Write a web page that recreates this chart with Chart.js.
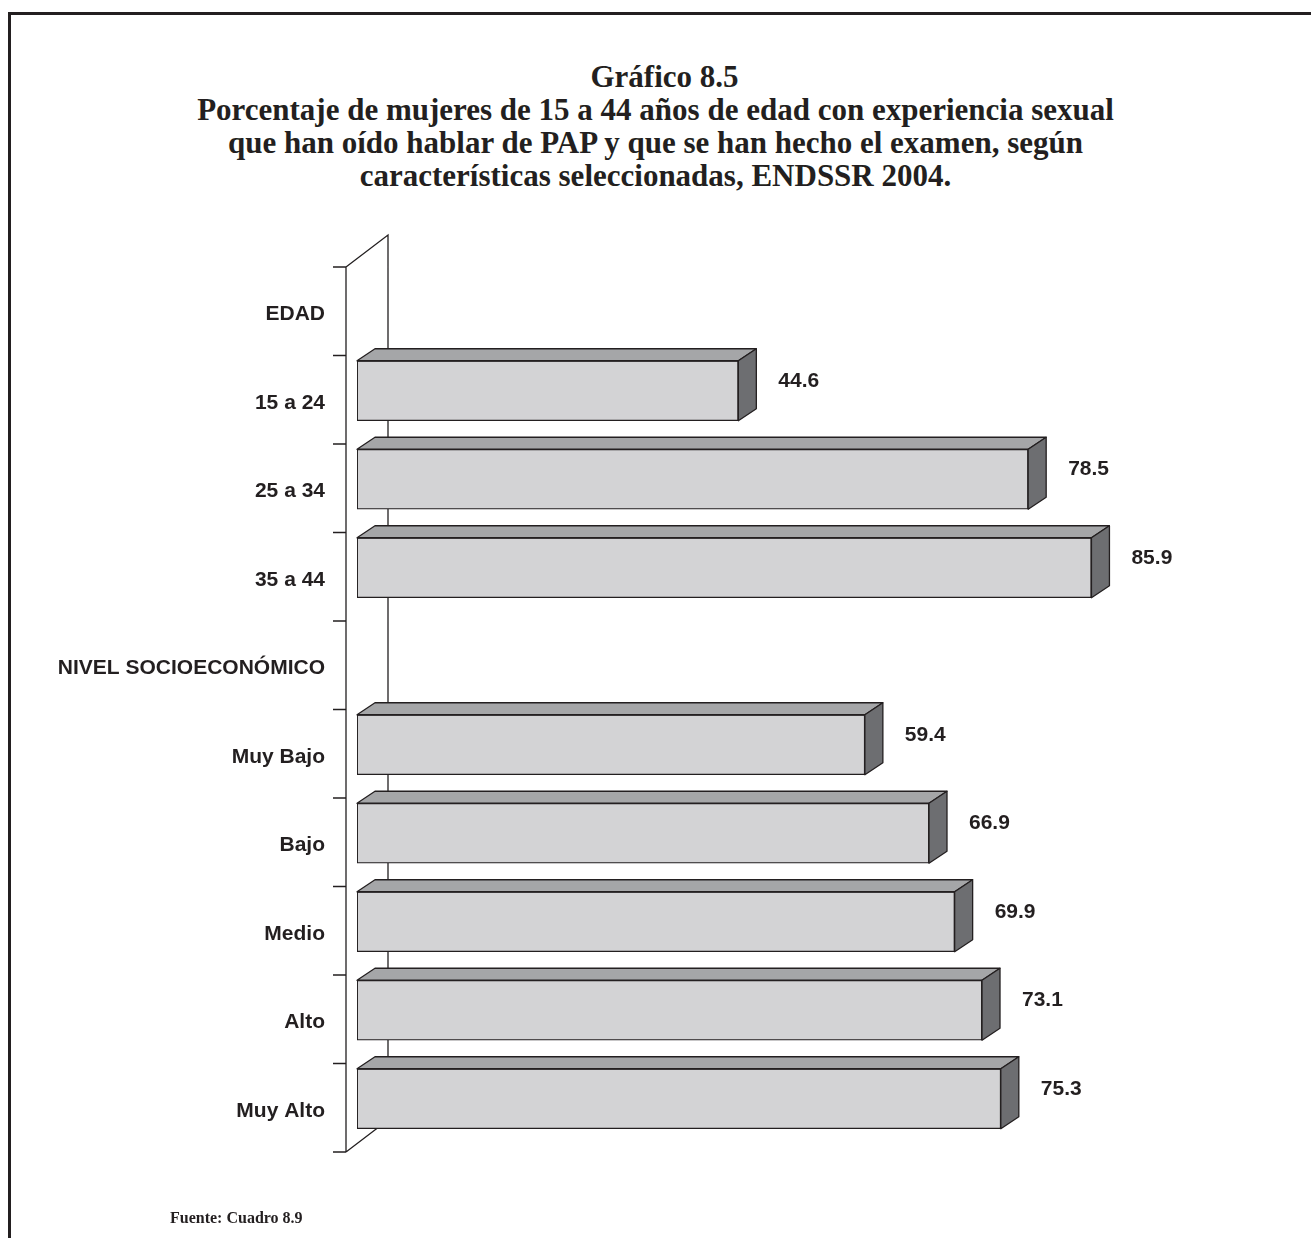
<!DOCTYPE html>
<html>
<head>
<meta charset="utf-8">
<script src="https://cdn.jsdelivr.net/npm/chart.js@4"></script>
<style>
  body { margin: 0; background: #fff; }
  #wrap { position: relative; width: 1311px; height: 1238px; overflow: hidden; }
  #frame { position: absolute; left: 8px; top: 12px; width: 1400px; height: 1400px; border-left: 3px solid #231f20; border-top: 3px solid #231f20; }
  #title { position: absolute; left: 0; width: 1311px; top: 60px; text-align: center; font-family: 'Liberation Serif', serif; font-weight: bold; font-size: 31px; line-height: 33px; color: #231f20; }
  #source { position: absolute; left: 170px; top: 1209px; font-family: 'Liberation Serif', serif; font-weight: bold; font-size: 16px; color: #231f20; }
  canvas { position: absolute; left: 0; top: 0; }
</style>
</head>
<body>
<div id="wrap">
  <div id="frame"></div>
  <div id="title">
    <div style="padding-left:18px">Gráfico 8.5</div>
    <div>Porcentaje de mujeres de 15 a 44 años de edad con experiencia sexual</div>
    <div>que han oído hablar de PAP y que se han hecho el examen, según</div>
    <div>características seleccionadas, ENDSSR 2004.</div>
  </div>
  <canvas id="barChart" width="1311" height="1238"></canvas>
  <div id="source">Fuente: Cuadro 8.9</div>
</div>
<script>
const categories = ['EDAD', '15 a 24', '25 a 34', '35 a 44', 'NIVEL SOCIOECONÓMICO',
  'Muy Bajo', 'Bajo', 'Medio', 'Alto', 'Muy Alto'];
const percentages = [null, 44.6, 78.5, 85.9, null, 59.4, 66.9, 69.9, 73.1, 75.3];

const depthX = 18;
const depthY = 12;

// floor / wall lines of the 3D frame, drawn behind the bars
const wallPlugin = {
  id: 'wall',
  beforeDatasetsDraw(chart) {
    const ctx = chart.ctx;
    const area = chart.chartArea;
    const band = (area.bottom - area.top) / categories.length;
    const fx = area.left - 11;
    const top = area.top + 9;
    const bottom = area.bottom + 9;
    ctx.save();
    ctx.strokeStyle = '#231f20';
    ctx.lineWidth = 1.3;
    ctx.beginPath();
    ctx.moveTo(fx, top);
    ctx.lineTo(fx, bottom);
    ctx.moveTo(fx, top);
    ctx.lineTo(fx + 42, top - 32);
    ctx.lineTo(fx + 42, bottom - 32);
    ctx.moveTo(fx, bottom);
    ctx.lineTo(fx + 42, bottom - 32);
    for (let i = 0; i <= categories.length; i++) {
      const ty = top + band * i;
      ctx.moveTo(fx - 13, ty);
      ctx.lineTo(fx, ty);
    }
    ctx.stroke();
    ctx.restore();
  },
  afterDatasetsDraw(chart) {
    const ctx = chart.ctx;
    const meta = chart.getDatasetMeta(0);
    ctx.save();
    meta.data.forEach((bar, i) => {
      if (percentages[i] === null) return;
      const top = bar.y - bar.height / 2;
      const bottom = bar.y + bar.height / 2;
      const left = bar.base;
      const right = bar.x;
      ctx.strokeStyle = '#231f20';
      ctx.lineWidth = 1.3;
      ctx.lineJoin = 'round';
      // top face
      ctx.fillStyle = '#a5a6a8';
      ctx.beginPath();
      ctx.moveTo(left, top);
      ctx.lineTo(left + depthX, top - depthY);
      ctx.lineTo(right + depthX, top - depthY);
      ctx.lineTo(right, top);
      ctx.closePath();
      ctx.fill();
      ctx.stroke();
      // side face
      ctx.fillStyle = '#6d6e71';
      ctx.beginPath();
      ctx.moveTo(right, top);
      ctx.lineTo(right + depthX, top - depthY);
      ctx.lineTo(right + depthX, bottom - depthY);
      ctx.lineTo(right, bottom);
      ctx.closePath();
      ctx.fill();
      ctx.stroke();
      // value label
      ctx.fillStyle = '#231f20';
      ctx.font = 'bold 21px "Liberation Sans", Arial, sans-serif';
      ctx.textAlign = 'left';
      ctx.textBaseline = 'middle';
      ctx.fillText(percentages[i].toFixed(1), right + 40, bar.y - 10);
    });
    ctx.restore();
  }
};

const barChart = new Chart(document.getElementById('barChart').getContext('2d'), {
  type: 'bar',
  data: {
    labels: categories,
    datasets: [{
      data: percentages,
      backgroundColor: '#d3d3d5',
      borderColor: '#231f20',
      borderWidth: 1.3,
      borderSkipped: false,
      barThickness: 60
    }]
  },
  options: {
    indexAxis: 'y',
    responsive: false,
    animation: false,
    layout: {
      padding: { top: 258, bottom: 95, right: 99, left: 0 }
    },
    scales: {
      x: {
        display: false,
        min: 0,
        max: 100
      },
      y: {
        grid: { display: false, drawTicks: false },
        border: { display: false },
        afterFit: function(scale) {
          scale.width = 357;
        },
        ticks: {
          color: '#231f20',
          padding: 32,
          labelOffset: 12,
          font: { family: 'Liberation Sans', weight: 'bold', size: 21 }
        }
      }
    },
    plugins: {
      legend: { display: false },
      tooltip: { enabled: false }
    }
  },
  plugins: [wallPlugin]
});
</script>
</body>
</html>
